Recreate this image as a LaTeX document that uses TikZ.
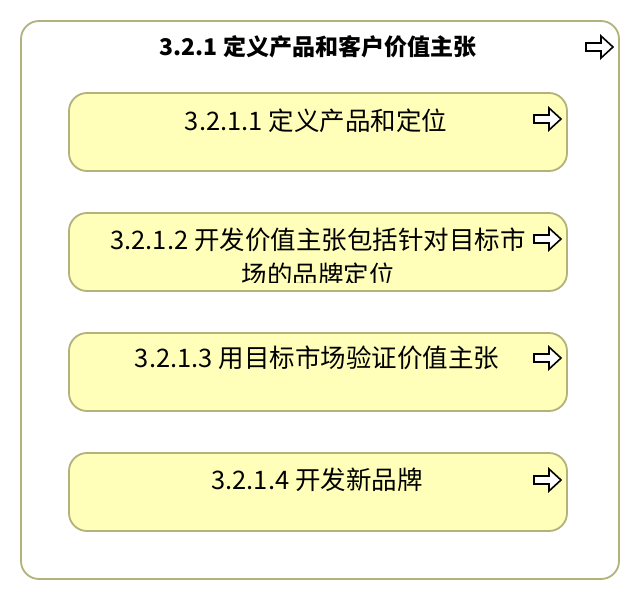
\documentclass[tikz,border=0pt]{standalone}
\usepackage{fontspec}
\setmainfont{Noto Sans CJK SC}
\definecolor{boxline}{RGB}{178,178,122}
\definecolor{boxfill}{RGB}{255,255,185}
\tikzset{
  outerbox/.style={draw=boxline, line width=1.8pt, fill=white, rounded corners=18pt},
  innerbox/.style={draw=boxline, line width=1.8pt, fill=boxfill, rounded corners=18pt},
  boxtext/.style={font=\fontsize{25.5}{30}\selectfont, align=center, inner sep=0pt},
  titletext/.style={font=\bfseries\fontsize{23}{28}\selectfont, inner sep=0pt},
  pics/outarrow/.style={code={
    \draw[black, line width=1.6pt, fill=white, line join=miter]
      (0,-4) -- (15,-4) -- (15,-11) -- (27,0) -- (15,11) -- (15,4) -- (0,4) -- cycle;
  }}
}
\begin{document}
\begin{tikzpicture}[x=1pt, y=-1pt]
\useasboundingbox (0,0) rectangle (640,600);
\draw[outerbox] (21,21) rectangle (619,579);
\node[titletext] (title) at (318,47) {3.2.1 定义产品和客户价值主张};
\pic at (586,47) {outarrow};

\draw[innerbox] (69,93) rectangle (567,171);
\node[boxtext] (t1) at (316,121) {3.2.1.1 定义产品和定位};
\pic at (534,119) {outarrow};

\draw[innerbox] (69,213) rectangle (567,291);
\begin{scope}
\clip (69,213) rectangle (567,282);
\node[boxtext] (t2a) at (318,240) {3.2.1.2 开发价值主张包括针对目标市};
\node[boxtext] (t2b) at (318,275) {场的品牌定位};
\end{scope}
\pic at (534,239) {outarrow};

\draw[innerbox] (69,333) rectangle (567,411);
\node[boxtext] (t3) at (317,358) {3.2.1.3 用目标市场验证价值主张};
\pic at (534,358) {outarrow};

\draw[innerbox] (69,453) rectangle (567,531);
\node[boxtext] (t4) at (317,480) {3.2.1.4 开发新品牌};
\pic at (534,480) {outarrow};
\end{tikzpicture}
\end{document}
